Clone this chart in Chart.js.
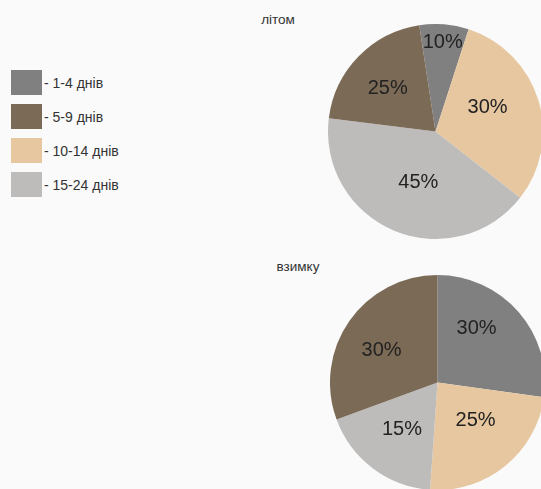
<!DOCTYPE html>
<html><head><meta charset="utf-8">
<script src="https://cdn.jsdelivr.net/npm/chart.js@4"></script>
<style>
html,body{margin:0;padding:0;background:#fafafa;width:541px;height:489px;overflow:hidden;position:relative;font-family:"Liberation Sans",Arial,sans-serif;}
.box{position:absolute;}
.title{position:absolute;font-size:13.5px;color:#333;transform:translateX(-50%);}
#legend{position:absolute;left:11px;top:70px;}
.li{display:flex;align-items:center;height:25px;margin-bottom:9px;font-size:14px;color:#333;}
.sw{width:31px;height:25px;margin-right:2px;}
</style></head><body>
<div class="title" style="left:278px;top:12px;">літом</div>
<div class="title" style="left:298px;top:259px;">взимку</div>
<div id="legend"></div>
<div class="box" style="left:328px;top:24px;width:215px;height:215px;"><canvas id="c1"></canvas></div>
<div class="box" style="left:330px;top:275px;width:215px;height:215px;"><canvas id="c2"></canvas></div>
<script>
// legend categories and colours
const categories = ["- 1-4 днів", "- 5-9 днів", "- 10-14 днів", "- 15-24 днів"];
const catColors = ["#808080", "#7b6a56", "#e6c79f", "#bdbcbb"];

// summer pie (clockwise order from start)
const summerOrder = [0, 2, 3, 1];
const summerValues = [7.4, 30.6, 41.4, 20.6];
const summerLabels = ["10%", "30%", "45%", "25%"];

// winter pie (clockwise order from top)
const winterOrder = [0, 2, 3, 1];
const winterValues = [27.2, 23.9, 18.3, 30.6];
const winterLabels = ["30%", "25%", "15%", "30%"];

const leg = document.getElementById('legend');
categories.forEach((c, i) => {
  const d = document.createElement('div'); d.className = 'li';
  d.innerHTML = '<div class="sw" style="background:' + catColors[i] + '"></div><span>' + c + '</span>';
  leg.appendChild(d);
});

const pctPlugin = {
  id: 'pct',
  afterDatasetsDraw(chart, args, opts) {
    const ctx = chart.ctx;
    const meta = chart.getDatasetMeta(0);
    ctx.save();
    ctx.font = '20px "Liberation Sans", Arial, sans-serif';
    ctx.fillStyle = '#222';
    ctx.textAlign = 'center';
    ctx.textBaseline = 'middle';
    meta.data.forEach((arc, i) => {
      const p = arc.getProps(['x', 'y', 'startAngle', 'endAngle', 'outerRadius'], true);
      const a = (p.startAngle + p.endAngle) / 2 + opts.shifts[i] * Math.PI / 180;
      const r = p.outerRadius * opts.radii[i];
      ctx.fillText(opts.labels[i], p.x + Math.cos(a) * r, p.y + Math.sin(a) * r);
    });
    ctx.restore();
  }
};

function makePie(id, order, values, labels, rotation, radii, shifts) {
  new Chart(document.getElementById(id), {
    type: 'pie',
    data: {
      labels: order.map(i => categories[i]),
      datasets: [{ data: values, backgroundColor: order.map(i => catColors[i]), borderWidth: 0 }]
    },
    options: {
      responsive: true, maintainAspectRatio: false, animation: false,
      rotation: rotation,
      layout: { padding: 0 },
      plugins: { legend: { display: false }, tooltip: { enabled: false }, pct: { labels: labels, radii: radii, shifts: shifts } }
    },
    plugins: [pctPlugin]
  });
}
makePie('c1', summerOrder, summerValues, summerLabels, -8.7, [0.835, 0.535, 0.5, 0.6], [0, -8, -4, -2]);
makePie('c2', winterOrder, winterValues, winterLabels, 0, [0.62, 0.5, 0.55, 0.6], [-13, -6, 0, -5]);
</script>
</body></html>
